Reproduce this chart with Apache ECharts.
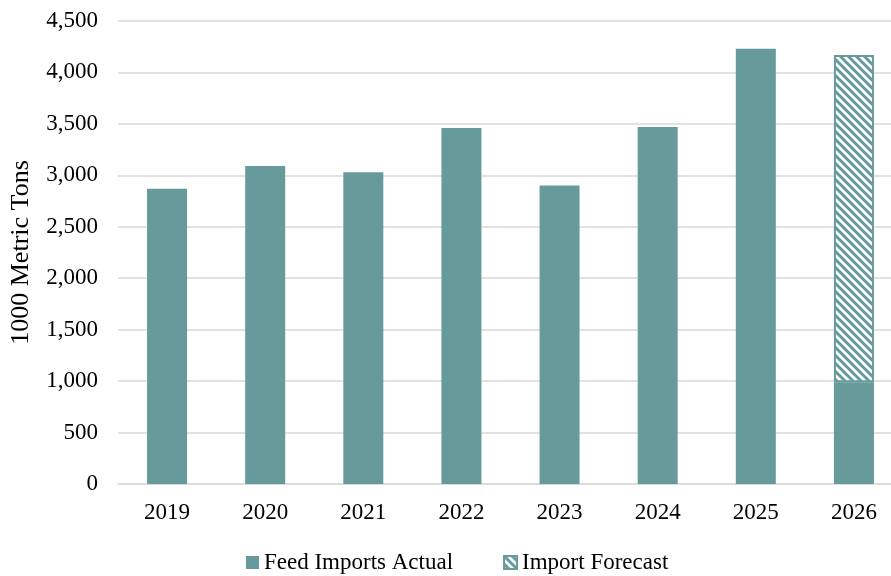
<!DOCTYPE html>
<html>
<head>
<meta charset="utf-8">
<style>
  html, body { margin: 0; padding: 0; background: #fff; }
  #chart { width: 891px; height: 576px; }
</style>
<script src="https://cdn.jsdelivr.net/npm/echarts@6/dist/echarts.min.js"></script>
</head>
<body>
<div id="chart"></div>
<script>
const years = ["2019", "2020", "2021", "2022", "2023", "2024", "2025", "2026"];
const actual = [2870, 3090, 3030, 3460, 2900, 3470, 4230, 990];
const forecast = [null, null, null, null, null, null, null, 3180];

const teal = "#679b9b";
const font = "Liberation Serif";

// diagonal stripe fill for the forecast part
function stripes() {
  const c = document.createElement("canvas");
  c.width = 8;
  c.height = 8;
  const ctx = c.getContext("2d");
  ctx.fillStyle = "#fff";
  ctx.fillRect(0, 0, 8, 8);
  ctx.strokeStyle = teal;
  ctx.lineWidth = 3;
  ctx.beginPath();
  ctx.moveTo(-2, -2); ctx.lineTo(10, 10);
  ctx.moveTo(-6, 2); ctx.lineTo(2, 10);
  ctx.moveTo(6, -2); ctx.lineTo(14, 6);
  ctx.stroke();
  return c;
}

const chart = echarts.init(document.getElementById("chart"));
chart.setOption({
  animation: false,
  textStyle: { fontFamily: font, color: "#000" },
  grid: { left: 118, top: 21, width: 785, bottom: 92, outerBoundsMode: "none", containLabel: false },
  legend: {
    bottom: -3,
    left: 241,
    icon: "rect",
    itemWidth: 13,
    itemHeight: 13,
    itemGap: 50,
    textStyle: { fontFamily: font, fontSize: 23, color: "#000" },
    data: ["Feed Imports Actual", "Import Forecast"]
  },
  xAxis: {
    type: "category",
    data: years,
    axisLine: { lineStyle: { color: "#d9d9d9", width: 1.5 } },
    axisTick: { show: false },
    axisLabel: { fontSize: 23, color: "#000", margin: 17 }
  },
  yAxis: {
    type: "value",
    min: 0,
    max: 4500,
    interval: 500,
    name: "1000 Metric Tons",
    nameLocation: "middle",
    nameGap: 84,
    nameTextStyle: { fontFamily: font, fontSize: 26, color: "#000" },
    axisLabel: {
      fontSize: 23,
      color: "#000",
      margin: 20,
      formatter: v => v.toLocaleString("en-US")
    },
    splitLine: { lineStyle: { color: "#d9d9d9", width: 1.5 } }
  },
  series: [
    {
      name: "Feed Imports Actual",
      type: "bar",
      stack: "total",
      barWidth: 40,
      data: actual,
      itemStyle: { color: teal }
    },
    {
      name: "Import Forecast",
      type: "bar",
      stack: "total",
      barWidth: 40,
      data: forecast,
      itemStyle: {
        color: { image: stripes(), repeat: "repeat" },
        borderColor: teal,
        borderWidth: 2
      }
    }
  ]
});
</script>
</body>
</html>
